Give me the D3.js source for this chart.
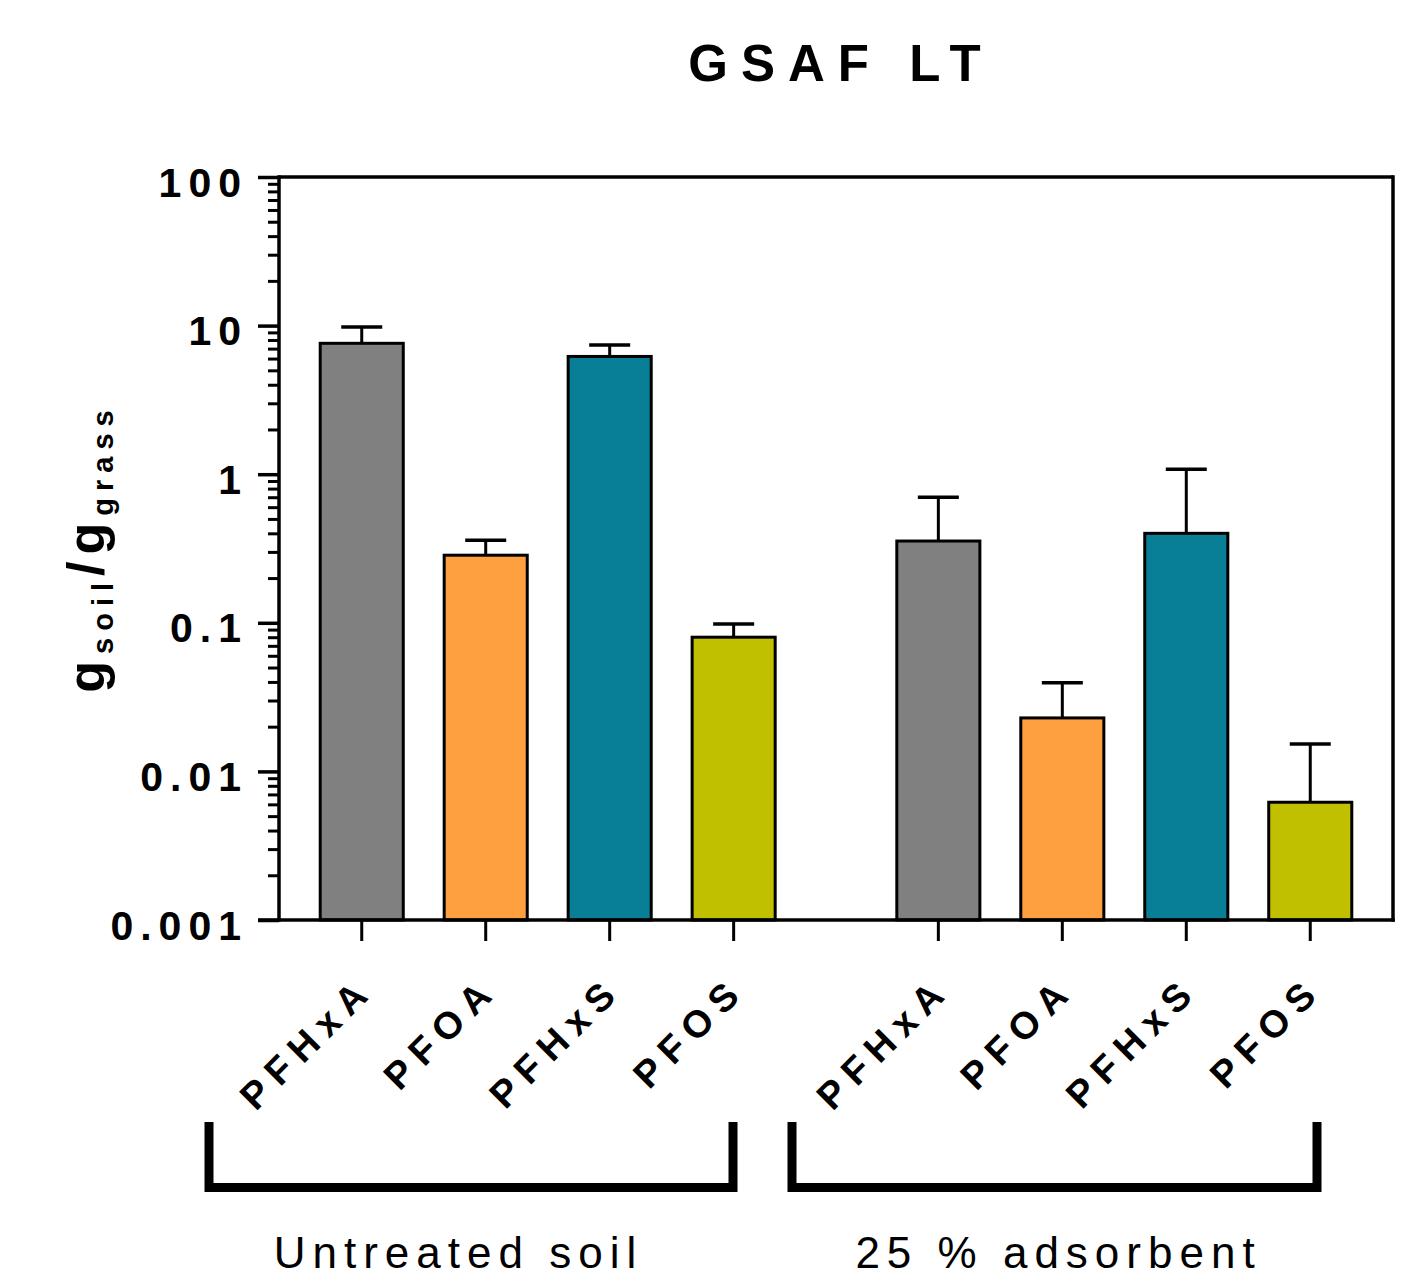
<!DOCTYPE html>
<html>
<head>
<meta charset="utf-8">
<script src="https://cdn.jsdelivr.net/npm/d3@7"></script>
<style>
  html, body { margin: 0; padding: 0; background: #fff; }
  svg { display: block; font-family: "Liberation Sans", Arial, sans-serif; }
</style>
</head>
<body>
<svg id="chart" width="1412" height="1276"></svg>
<script>
// ---- data ----
const groups = ["Untreated soil", "25 % adsorbent"];
const compounds = ["PFHxA", "PFOA", "PFHxS", "PFOS"];
const untreatedMean = [7.6, 0.285, 6.2, 0.080];
const untreatedErrTop = [9.8, 0.36, 7.4, 0.098];
const adsorbentMean = [0.355, 0.0229, 0.40, 0.0062];
const adsorbentErrTop = [0.70, 0.0395, 1.08, 0.0153];
const yTickValues = [0.001, 0.01, 0.1, 1, 10, 100];
const yTickLabels = ["0.001", "0.01", "0.1", "1", "10", "100"];
const titleText = "GSAF LT";
const colors = ["#808080", "#FFA040", "#097E97", "#C0C000"];

const rows = [];
compounds.forEach((c, i) => rows.push({group: groups[0], comp: c, v: untreatedMean[i], e: untreatedErrTop[i], ci: i}));
compounds.forEach((c, i) => rows.push({group: groups[1], comp: c, v: adsorbentMean[i], e: adsorbentErrTop[i], ci: i}));

// ---- layout ----
const svg = d3.select("#chart");
const L = 279, R = 1393, T = 177, B = 920;

const y = d3.scaleLog().domain([0.001, 100]).range([B, T]);
const xg = d3.scaleBand().domain(groups).range([L, R]).paddingInner(0.14).paddingOuter(0.036);
const xc = d3.scaleBand().domain(compounds).range([0, xg.bandwidth()]).paddingInner(0.33).paddingOuter(0.165);
const cx = d => xg(d.group) + xc(d.comp) + xc.bandwidth() / 2;

// title
svg.append("text")
  .attr("x", 835 + 6).attr("y", 81)
  .attr("text-anchor", "middle")
  .attr("font-size", 51).attr("font-weight", "bold")
  .attr("letter-spacing", 13)
  .text(titleText);

// bars
svg.append("g").selectAll("rect").data(rows).join("rect")
  .attr("x", d => xg(d.group) + xc(d.comp))
  .attr("width", xc.bandwidth())
  .attr("y", d => y(d.v))
  .attr("height", d => B - y(d.v))
  .attr("fill", d => colors[d.ci])
  .attr("stroke", "#000").attr("stroke-width", 3);

// error bars
const eg = svg.append("g").attr("stroke", "#000");
eg.selectAll("line.v").data(rows).join("line").attr("class", "v")
  .attr("x1", cx).attr("x2", cx)
  .attr("y1", d => y(d.v)).attr("y2", d => y(d.e))
  .attr("stroke-width", 3);
eg.selectAll("line.c").data(rows).join("line").attr("class", "c")
  .attr("x1", d => cx(d) - 20.5).attr("x2", d => cx(d) + 20.5)
  .attr("y1", d => y(d.e)).attr("y2", d => y(d.e))
  .attr("stroke-width", 3.5);

// frame (top & right)
svg.append("line").attr("x1", L).attr("x2", R).attr("y1", T).attr("y2", T)
  .attr("stroke", "#000").attr("stroke-width", 3.5);
svg.append("line").attr("x1", R).attr("x2", R).attr("y1", T - 1.75).attr("y2", B + 1.75)
  .attr("stroke", "#000").attr("stroke-width", 3.5);

// y axis: minor ticks
const minor = [];
for (let e = -3; e < 2; e++) for (let m = 2; m <= 9; m++) minor.push(m * Math.pow(10, e));
const yAxisMinor = d3.axisLeft(y).tickValues(minor).tickSize(11).tickFormat("");
const gMinor = svg.append("g").attr("transform", `translate(${L},0)`).call(yAxisMinor);
gMinor.select(".domain").remove();
gMinor.selectAll(".tick line").attr("stroke", "#000").attr("stroke-width", 3);

// y axis: major
const yAxis = d3.axisLeft(y).tickValues(yTickValues).tickSize(21).tickPadding(0)
  .tickFormat((d, i) => yTickLabels[i]);
const gy = svg.append("g").attr("transform", `translate(${L},0)`).call(yAxis);
gy.select(".domain").attr("stroke", "#000").attr("stroke-width", 3.5)
  .attr("d", `M0,${T - 1.75}V${B + 1.75}`);
gy.selectAll(".tick line").attr("stroke", "#000").attr("stroke-width", 3.5);
gy.selectAll(".tick text")
  .attr("x", -31).attr("dy", null).attr("y", 19)
  .attr("fill", "#000")
  .attr("font-size", 41).attr("font-weight", "bold")
  .attr("font-family", "Liberation Sans, Arial, sans-serif")
  .attr("letter-spacing", 7);

// x axis baseline
svg.append("line").attr("x1", L - 21).attr("x2", R + 1.75).attr("y1", B).attr("y2", B)
  .attr("stroke", "#000").attr("stroke-width", 3.5);

// x ticks & rotated labels
const xt = svg.append("g");
xt.selectAll("line").data(rows).join("line")
  .attr("x1", cx).attr("x2", cx).attr("y1", B).attr("y2", B + 21)
  .attr("stroke", "#000").attr("stroke-width", 3);
xt.selectAll("text").data(rows).join("text")
  .attr("transform", d => `translate(${cx(d) + 14},${B + 72}) rotate(-45)`)
  .attr("text-anchor", "end")
  .attr("font-size", 38).attr("font-weight", "bold")
  .attr("letter-spacing", 9)
  .text(d => d.comp);

// group brackets
const bk = svg.append("g").attr("fill", "none").attr("stroke", "#000").attr("stroke-width", 9);
const bracketExt = [[209, 733], [792, 1317]];
const groupLabelX = [455, 1055];
groups.forEach((g, i) => {
  const [a, b] = bracketExt[i];
  bk.append("path").attr("d", `M${a},1122V1187.5H${b}V1122`).attr("stroke-linejoin", "miter");
  svg.append("text")
    .attr("x", groupLabelX[i] + 3.5).attr("y", 1268)
    .attr("text-anchor", "middle")
    .attr("font-size", 44)
    .attr("letter-spacing", 7)
    .text(g);
});

// y axis title
const yt = svg.append("text")
  .attr("transform", "translate(104,548) rotate(-90)")
  .attr("text-anchor", "middle")
  .attr("font-weight", "bold")
  .attr("letter-spacing", 7);
yt.append("tspan").attr("font-size", 52).text("g");
yt.append("tspan").attr("font-size", 29).attr("dy", 9).text("soil");
yt.append("tspan").attr("font-size", 52).attr("dy", -9).text("/g");
yt.append("tspan").attr("font-size", 29).attr("dy", 9).text("grass");
</script>
</body>
</html>
